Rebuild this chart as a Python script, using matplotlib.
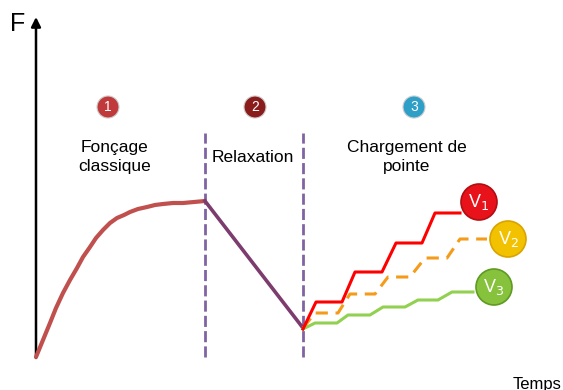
import matplotlib
matplotlib.use("Agg")
import matplotlib.pyplot as plt
from matplotlib.patches import Circle

plt.rcParams["font.family"] = ["Liberation Sans", "DejaVu Sans"]

# data in pixel-like units: t = time, F = force (origin at axis corner)
phase1_t = [0, 7, 14, 20, 27, 34, 41, 47, 54, 60, 67, 74, 81, 88, 94, 102, 111, 119, 127, 137, 147, 158, 169]
phase1_f = [0, 17, 34, 49, 64, 77, 89, 100, 110, 119, 127, 134, 139, 142, 145, 148, 150, 152, 153, 154, 154, 155, 156]

relax_t = [169, 267]
relax_f = [156, 29]

v1_t = [267, 280, 306, 319, 346, 360, 386, 399, 424]
v1_f = [28, 55, 55, 85, 85, 114, 114, 144, 144]
v2_t = [267, 279, 302, 314, 339, 352, 374, 389, 411, 424, 451]
v2_f = [29, 44, 44, 63, 63, 80, 80, 99, 99, 118, 118]
v3_t = [267, 279, 301, 312, 334, 347, 369, 382, 402, 416, 437]
v3_f = [28, 34, 34, 42, 42, 50, 50, 57, 57, 65, 65]

phase_bounds = [169, 267]
phase_nums = ["1", "2", "3"]
phase_labels = ["Fonçage\nclassique", "Relaxation", "Chargement de\npointe"]
phase_label_t = [79, 217, 371]
phase_num_t = [72, 219, 378]
phase_colors = ["#c0393b", "#8a1c1c", "#2e9fc6"]

speed_labels = [r"V$_1$", r"V$_2$", r"V$_3$"]
speed_colors = ["#e8121a", "#f2c200", "#86c23c"]
speed_edges = ["#b00e14", "#d9a400", "#5f9a22"]
speed_pos = [(443, 155), (472, 118), (458, 70)]

fig = plt.figure(figsize=(5.63, 3.90), dpi=100)
ax = fig.add_axes([0, 0, 1, 1])
ax.set_xlim(-36, 527)
ax.set_ylim(-33, 357)
ax.axis("off")

# axes with arrows
ax.annotate("", xy=(0, 340), xytext=(0, -1),
            arrowprops=dict(arrowstyle="-|>", color="black", lw=1.8,
                            mutation_scale=14, shrinkA=0, shrinkB=0))
ax.annotate("", xy=(530, 0), xytext=(-1, 0),
            arrowprops=dict(arrowstyle="-|>", color="black", lw=1.8,
                            mutation_scale=14, shrinkA=0, shrinkB=0))
ax.text(-18, 333, "F", fontsize=18, ha="center", va="center")
ax.text(477, -27, "Temps", fontsize=12, ha="left", va="center")

# phase boundaries
for b in phase_bounds:
    ax.plot([b, b], [0, 224], color="#8064a2", lw=2, ls=(0, (4, 1.5)), zorder=2)

# curves
ax.plot(phase1_t, phase1_f, color="#c0504d", lw=3, solid_capstyle="round",
        solid_joinstyle="round", zorder=3)
ax.plot(relax_t, relax_f, color="#7d3c6e", lw=2.6, zorder=3)
ax.plot(v3_t, v3_f, color="#92d050", lw=2.2, zorder=3)
ax.plot(v2_t, v2_f, color="#f59b1a", lw=2.2, ls=(0, (4, 2.5)), zorder=3)
ax.plot(v1_t, v1_f, color="#ff0000", lw=2.2, zorder=4)

# phase numbers and labels
for i in range(3):
    ax.add_patch(Circle((phase_num_t[i], 250), 11, facecolor=phase_colors[i],
                        edgecolor="#cccccc", lw=0.8, zorder=5))
    ax.text(phase_num_t[i], 250, phase_nums[i], color="white", fontsize=10,
            ha="center", va="center", zorder=6)
    ax.text(phase_label_t[i], 200, phase_labels[i], fontsize=12.5,
            ha="center", va="center", linespacing=1.3, zorder=6)

# speed bubbles
for lab, c, e, (x, y) in zip(speed_labels, speed_colors, speed_edges, speed_pos):
    ax.add_patch(Circle((x, y), 18, facecolor=c, edgecolor=e, lw=1.2, zorder=5))
    ax.text(x, y, lab, color="white", fontsize=13, ha="center", va="center", zorder=6)

fig.savefig("out.png", dpi=100)
